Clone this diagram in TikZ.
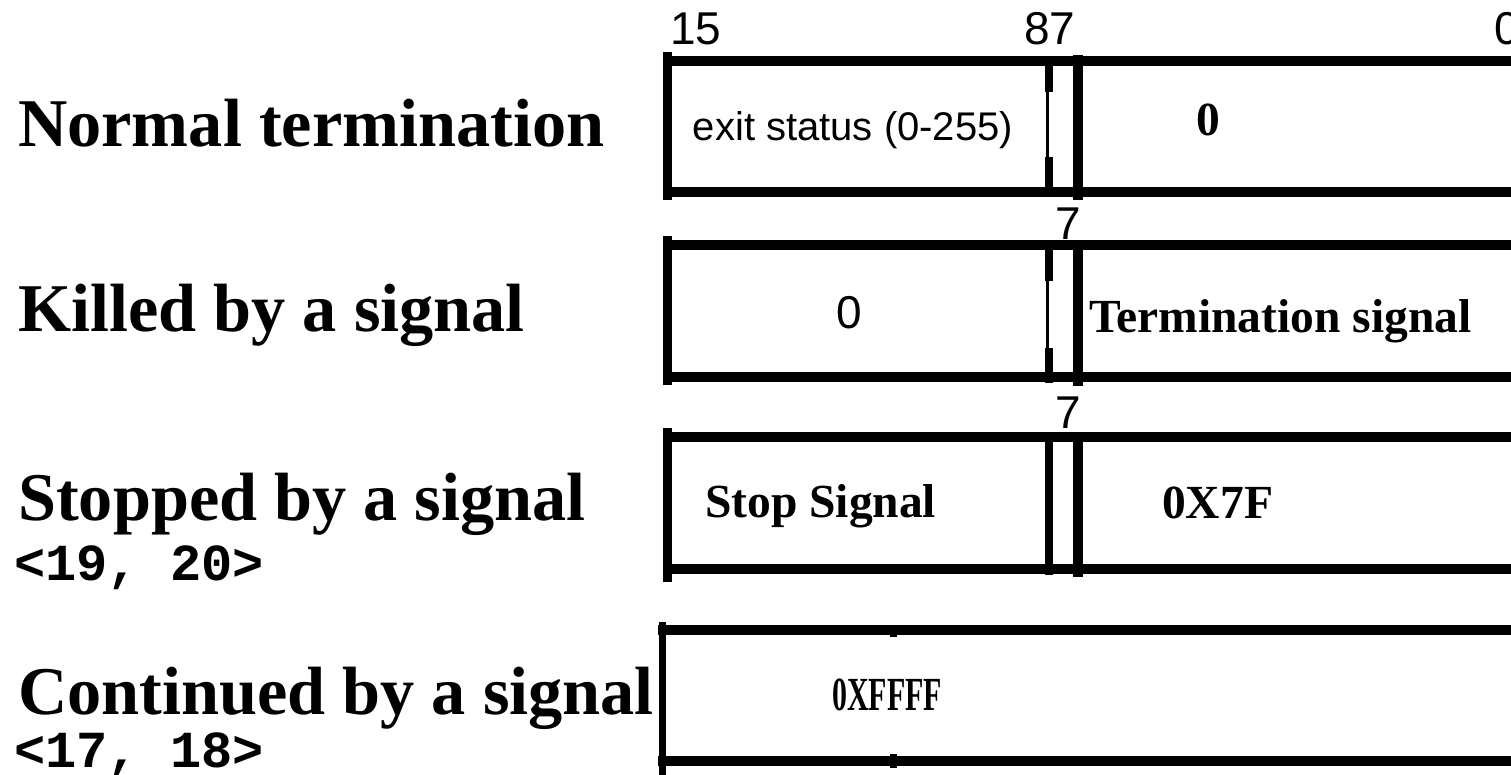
\documentclass[tikz,border=0pt]{standalone}
\usepackage{fontspec}
\setmainfont{Liberation Serif}
\newfontfamily\arialf{Liberation Sans}
\newfontfamily\courf{Liberation Mono}
\tikzset{
  hbar/.style={line width=10pt, line cap=butt},
  vbar/.style={line width=9pt, line cap=butt},
  dbar/.style={line width=8pt, line cap=butt},
  thinbar/.style={line width=3pt, line cap=butt},
  rowtitle/.style={anchor=base west, inner sep=0pt, font=\fontsize{68.3}{80}\selectfont\bfseries},
  code/.style={anchor=base west, inner sep=0pt, font=\courf\fontsize{52}{60}\selectfont\bfseries},
  bitlbl/.style={anchor=base west, inner sep=0pt, font=\arialf\fontsize{46}{54}\selectfont},
  fieldsans/.style={anchor=base, inner sep=0pt, font=\arialf\fontsize{46}{54}\selectfont},
  fieldserif/.style={anchor=base west, inner sep=0pt, font=\fontsize{47.5}{56}\selectfont\bfseries},
}
\begin{document}
\begin{tikzpicture}[x=1pt,y=-1pt]
\useasboundingbox (0,0) rectangle (1511,775);
\fill[white] (0,0) rectangle (1511,775);

% titles
\node[rowtitle] (t1) at (18,147) {Normal termination};
\node[rowtitle] (t2) at (18,331) {Killed by a signal};
\node[rowtitle] (t3) at (18,520) {Stopped by a signal};
\node[code] (c3) at (14,580) {<19, 20>};
\node[rowtitle] (t4) at (18,714) {Continued by a signal};
\node[code] (c4) at (14,767) {<17, 18>};

% bit labels
\node[bitlbl] (b15) at (670,45) {15};
\node[bitlbl] (b87) at (1024,45) {87};
\node[bitlbl] (b0) at (1494,45) {0};
\node[bitlbl] (b7a) at (1055,240) {7};
\node[bitlbl] (b7b) at (1055,428) {7};

% row 1
\draw[hbar] (663,61) -- (1511,61);
\draw[hbar] (663,192) -- (1511,192);
\draw[vbar] (667,52) -- (667,200);
\draw[dbar] (1049,57) -- (1049,92);
\draw[thinbar] (1047.5,92) -- (1047.5,157);
\draw[dbar] (1049,157) -- (1049,197);
\draw[line width=10pt] (1078,55) -- (1078,200);
\node[fieldsans, font=\arialf\fontsize{40}{48}\selectfont] (f1a) at (853,141) {exit status (0-255)};
\node[fieldserif] (f1b) at (1196,136) {0};

% row 2
\draw[hbar] (663,245) -- (1511,245);
\draw[hbar] (663,377) -- (1511,377);
\draw[vbar] (667,236) -- (667,385);
\draw[dbar] (1049,245) -- (1049,281);
\draw[thinbar] (1047.5,281) -- (1047.5,348);
\draw[dbar] (1049,348) -- (1049,383);
\draw[line width=10pt] (1078,245) -- (1078,386);
\node[fieldsans] (f2a) at (849,328) {0};
\node[fieldserif] (f2b) at (1089,332) {Termination signal};

% row 3
\draw[hbar] (663,437) -- (1511,437);
\draw[hbar] (663,569) -- (1511,569);
\draw[vbar] (667,428) -- (667,582);
\draw[dbar] (1049,437) -- (1049,575);
\draw[line width=10pt] (1078,433) -- (1078,577);
\node[fieldserif] (f3a) at (705,517) {Stop Signal};
\node[fieldserif] (f3b) at (1162,518) {0X7F};

% row 4
\draw[hbar] (658,630) -- (1511,630);
\draw[hbar] (658,761) -- (1511,761);
\draw[line width=7pt] (662,622) -- (662,775);
\fill (890,634) rectangle (897,637);
\fill (890,754) rectangle (897,757);
\fill (890,765) rectangle (897,768);
\node[fieldserif, anchor=base, xscale=0.63] (f4) at (887,710) {0XFFFF};
\end{tikzpicture}
\end{document}
